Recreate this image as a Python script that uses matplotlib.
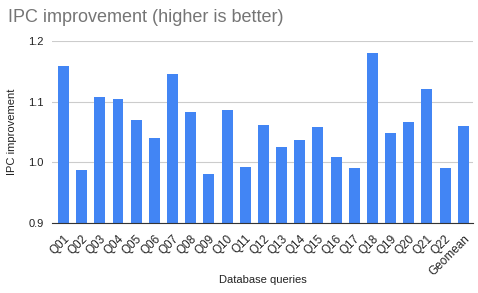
import numpy as np
import matplotlib.pyplot as plt

plt.rcParams['font.family'] = ['Liberation Sans', 'DejaVu Sans']

queries = ['Q01', 'Q02', 'Q03', 'Q04', 'Q05', 'Q06', 'Q07', 'Q08', 'Q09', 'Q10', 'Q11',
           'Q12', 'Q13', 'Q14', 'Q15', 'Q16', 'Q17', 'Q18', 'Q19', 'Q20', 'Q21', 'Q22',
           'Geomean']
ipc = [1.158, 0.987, 1.107, 1.105, 1.069, 1.040, 1.145, 1.083, 0.980, 1.086, 0.992,
       1.061, 1.026, 1.037, 1.059, 1.009, 0.991, 1.180, 1.049, 1.067, 1.121, 0.990,
       1.060]
yticks = [0.9, 1.0, 1.1, 1.2]

fig = plt.figure(figsize=(4.78, 2.93), dpi=100)
ax = fig.add_axes([0.109, 0.239, 0.881, 0.621])

x = np.arange(len(queries))
ax.bar(x, ipc, width=0.6, color='#4285F4', zorder=2)

ax.set_ylim(0.9, 1.2)
ax.set_xlim(-0.63, len(queries) - 0.45)
ax.set_yticks(yticks)
ax.set_yticklabels(['{:.1f}'.format(v) for v in yticks], fontsize=8, color='#222222')
ax.set_xticks(x)
ax.set_xticklabels(queries, rotation=45, ha='right', rotation_mode='anchor',
                   fontsize=8.5, color='#222222')
ax.tick_params(axis='x', length=0, pad=7)
ax.tick_params(axis='y', length=0, pad=6)
ax.grid(axis='y', color='#cccccc', linewidth=0.8, zorder=0)

for s in ['top', 'right', 'left']:
    ax.spines[s].set_visible(False)
ax.spines['bottom'].set_color('#333333')
ax.spines['bottom'].set_linewidth(0.8)

fig.text(0.025, 0.55, 'IPC improvement', fontsize=8, color='#222222',
         rotation=90, ha='center', va='center')
fig.text(0.55, 0.044, 'Database queries', fontsize=8, color='#222222',
         ha='center', va='center')
fig.text(0.017, 0.94, 'IPC improvement (higher is better)', fontsize=13,
         color='#757575', ha='left', va='center')

fig.savefig('out.png', dpi=100)
